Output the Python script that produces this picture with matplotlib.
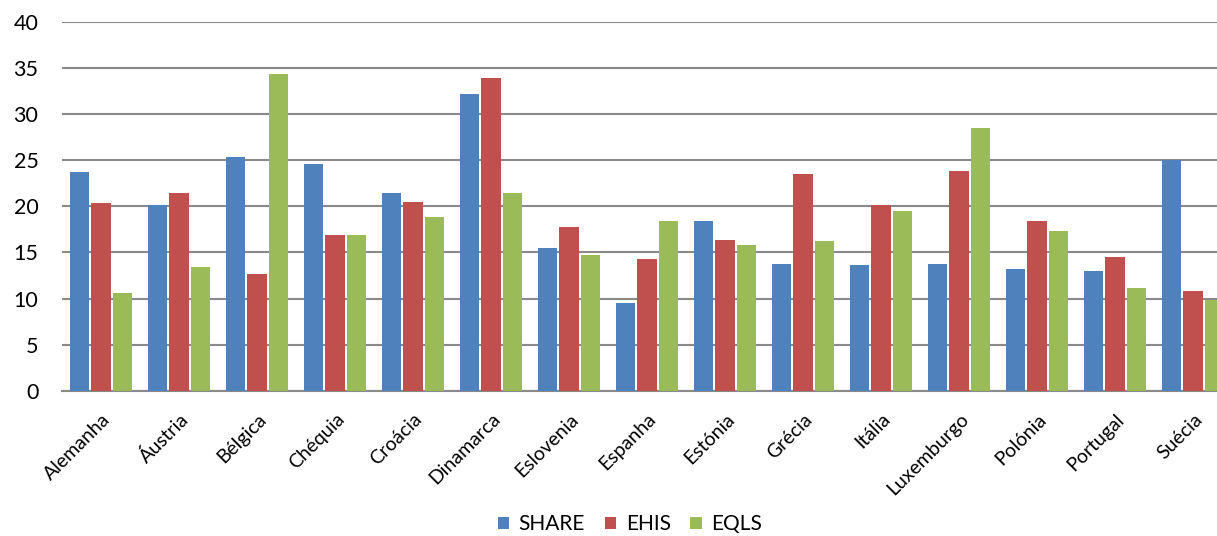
import matplotlib
matplotlib.use("Agg")
import matplotlib.pyplot as plt
import numpy as np
from matplotlib.transforms import ScaledTranslation

countries = ["Alemanha", "Áustria", "Bélgica", "Chéquia", "Croácia", "Dinamarca",
             "Eslovenia", "Espanha", "Estónia", "Grécia", "Itália", "Luxemburgo",
             "Polónia", "Portugal", "Suécia"]
share = [23.7, 20.1, 25.3, 24.6, 21.4, 32.1, 15.5, 9.5, 18.4, 13.8, 13.6, 13.8, 13.2, 13.0, 25.0]
ehis = [20.3, 21.4, 12.7, 16.9, 20.5, 33.9, 17.7, 14.3, 16.4, 23.5, 20.1, 23.8, 18.4, 14.5, 10.8]
eqls = [10.6, 13.4, 34.3, 16.9, 18.8, 21.4, 14.7, 18.4, 15.8, 16.2, 19.5, 28.5, 17.3, 11.2, 9.9]
series_names = ["SHARE", "EHIS", "EQLS"]
colors = ["#4F81BD", "#C0504D", "#9BBB59"]
yticks = [0, 5, 10, 15, 20, 25, 30, 35, 40]

plt.rcParams["font.family"] = ["Lato", "DejaVu Sans"]

W, H = 1217, 536
fig = plt.figure(figsize=(W / 100, H / 100), dpi=100)
left_px, right_px, top_px, bottom_px = 62, 1232, 21.5, 391
ax = fig.add_axes([left_px / W, 1 - bottom_px / H,
                   (right_px - left_px) / W, (bottom_px - top_px) / H])

x = np.arange(len(countries))
slot = 0.273
bw = 0.245
for i, (vals, name, c) in enumerate(zip([share, ehis, eqls], series_names, colors)):
    ax.bar(x + (i - 1) * slot, vals, width=bw, color=c, label=name,
           edgecolor="none", zorder=3)

ax.set_xlim(-0.5, len(countries) - 0.5)
ax.set_ylim(0, 40)
ax.set_yticks(yticks)
ax.set_yticklabels([str(t) for t in yticks], fontsize=15.5, color="#000000")
ax.yaxis.grid(True, color="#8a8a8a", linewidth=1.5, zorder=0)
ax.set_axisbelow(True)
for s in ["left", "right", "top"]:
    ax.spines[s].set_visible(False)
ax.spines["bottom"].set_color("#8a8a8a")
ax.spines["bottom"].set_linewidth(1.5)
ax.tick_params(axis="y", length=0, pad=17)
ax.tick_params(axis="x", length=0, pad=14)

ax.set_xticks(x)
ax.set_xticklabels(countries, rotation=45, ha="right", va="top",
                   rotation_mode="anchor", fontsize=14)
for lab in ax.get_xticklabels():
    lab.set_transform(lab.get_transform() + ScaledTranslation(0.5 / 100, 0, fig.dpi_scale_trans))

leg = fig.legend(loc="lower center", bbox_to_anchor=(630 / W, -0.024), ncol=3,
                 frameon=False, fontsize=15, handlelength=0.55, handleheight=0.55,
                 handletextpad=0.45, columnspacing=0.95, borderpad=0.2)

fig.savefig("out.png", dpi=100, facecolor="white")
